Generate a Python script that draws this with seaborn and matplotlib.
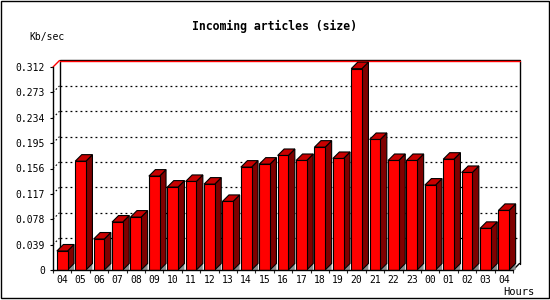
import matplotlib
matplotlib.use("Agg")
import matplotlib.pyplot as plt
import seaborn as sns
import pandas as pd
from matplotlib.patches import Polygon, Rectangle

hours = ["04", "05", "06", "07", "08", "09", "10", "11", "12", "13", "14", "15",
         "16", "17", "18", "19", "20", "21", "22", "23", "00", "01", "02", "03", "04"]
values = [0.0292, 0.1673, 0.0476, 0.0737, 0.0813, 0.1443, 0.1274, 0.1361, 0.1320,
          0.1054, 0.1581, 0.1627, 0.1760, 0.1683, 0.1888, 0.1714, 0.3095, 0.2006,
          0.1683, 0.1683, 0.1305, 0.1703, 0.1499, 0.0640, 0.0916]
yticks = [0, 0.039, 0.078, 0.117, 0.156, 0.195, 0.234, 0.273, 0.312]
ytick_labels = ["0", "0.039", "0.078", "0.117", "0.156", "0.195", "0.234", "0.273", "0.312"]
title = "Incoming articles (size)"
ylabel = "Kb/sec"
xlabel = "Hours"

sns.set_style("white")
plt.rcParams["font.family"] = ["DejaVu Sans Mono", "DejaVu Sans"]
plt.rcParams["text.color"] = "black"

W, H = 550, 300
fig = plt.figure(figsize=(5.5, 3), dpi=100)
fig.patch.set_facecolor("white")
ax_l, ax_r, ax_b, ax_t = 53, 513, 270, 67
ax = fig.add_axes([ax_l / W, (H - ax_b) / H, (ax_r - ax_l) / W, (ax_b - ax_t) / H])
ax.set_facecolor("none")

df = pd.DataFrame({"slot": list(range(len(hours))), "val": values})
sns.barplot(data=df, x="slot", y="val", color="#ff0000", saturation=1, width=0.58,
            edgecolor="black", linewidth=0.8, ax=ax, zorder=3)

n = len(hours)
ymax = yticks[-1]
ax.set_xlim(-0.5, n - 0.5)
ax.set_ylim(0, ymax)

dpx = 6.5
dx = dpx * n / (ax_r - ax_l)
dy = dpx * ymax / (ax_b - ax_t)

# back plane grid lines and connectors
for v in yticks[1:-1]:
    ax.plot([-0.5 + dx, n - 0.5 + dx], [v + dy, v + dy], color="black", lw=0.9,
            ls=(0, (1.5, 2.5)), zorder=1, clip_on=False)
    ax.plot([-0.5, -0.5 + dx], [v, v + dy], color="black", lw=0.8,
            ls=(0, (1.5, 2.0)), zorder=1, clip_on=False)

# back plane frame
ax.plot([-0.5 + dx, -0.5 + dx], [dy, ymax + dy], color="black", lw=1, zorder=1, clip_on=False)
ax.plot([n - 0.5 + dx, n - 0.5 + dx], [dy, ymax + dy], color="black", lw=1, zorder=1, clip_on=False)
ax.plot([-0.5 + dx, n - 0.5 + dx], [ymax + dy * 1.15, ymax + dy * 1.15], color="black", lw=1,
        zorder=1, clip_on=False)
ax.plot([-0.5 + dx, n - 0.5 + dx], [ymax + dy, ymax + dy], color="#ff0000", lw=1.0,
        zorder=1.1, clip_on=False)
ax.plot([-0.5, -0.5 + dx], [ymax, ymax + dy], color="#ff0000", lw=1, zorder=1, clip_on=False)
ax.plot([n - 0.5, n - 0.5 + dx], [0, dy], color="black", lw=1, zorder=1, clip_on=False)

# 3D faces for each bar
for p in ax.patches[:n]:
    x0, w, h = p.get_x(), p.get_width(), p.get_height()
    x1 = x0 + w
    ax.add_patch(Polygon([(x1, 0), (x1 + dx, dy), (x1 + dx, 0)], closed=True,
                         facecolor="#8c8c8c", edgecolor="none", zorder=2, clip_on=False))
    ax.add_patch(Polygon([(x1, 0), (x1 + dx, dy), (x1 + dx, h + dy), (x1, h)], closed=True,
                         facecolor="#800000", edgecolor="black", lw=0.8, zorder=2.5, clip_on=False))
    ax.add_patch(Polygon([(x0, h), (x1, h), (x1 + dx, h + dy), (x0 + dx, h + dy)], closed=True,
                         facecolor="#c80000", edgecolor="black", lw=0.8, zorder=2.5, clip_on=False))

for s in ["top", "right"]:
    ax.spines[s].set_visible(False)
for s in ["left", "bottom"]:
    ax.spines[s].set_visible(True)
    ax.spines[s].set_color("black")
    ax.spines[s].set_linewidth(1)
    ax.spines[s].set_zorder(4)

ax.set_yticks(yticks)
ax.set_yticklabels(ytick_labels)
ax.tick_params(axis="y", direction="out", length=2.5, width=0.8, pad=3.4,
               labelsize=7, colors="black", left=True)

ax.set_xticks([i - 0.5 for i in range(n + 1)])
ax.set_xticklabels([])
ax.set_xticks(list(range(n)), minor=True)
ax.set_xticklabels(hours, minor=True)
ax.tick_params(axis="x", which="major", direction="out", length=2.5, width=0.8, bottom=True)
ax.tick_params(axis="x", which="minor", length=0, pad=3.5, labelsize=7, colors="black")
ax.set_xlabel("")
ax.set_ylabel("")
ax.grid(False)

fig.text(274 / W, 1 - 26 / H, title, ha="center", va="center", fontsize=8.3,
         fontweight="bold", color="black")
fig.text(47 / W, 1 - 37 / H, ylabel, ha="center", va="center", fontsize=7, color="black")
fig.text(519 / W, 1 - 292 / H, xlabel, ha="center", va="center", fontsize=7.5, color="black")

fig.add_artist(Rectangle((0.5 / W, 2.5 / H), 548 / W, 297 / H, transform=fig.transFigure,
                         fill=False, edgecolor="black", lw=1))

fig.savefig("out.png", dpi=100)
